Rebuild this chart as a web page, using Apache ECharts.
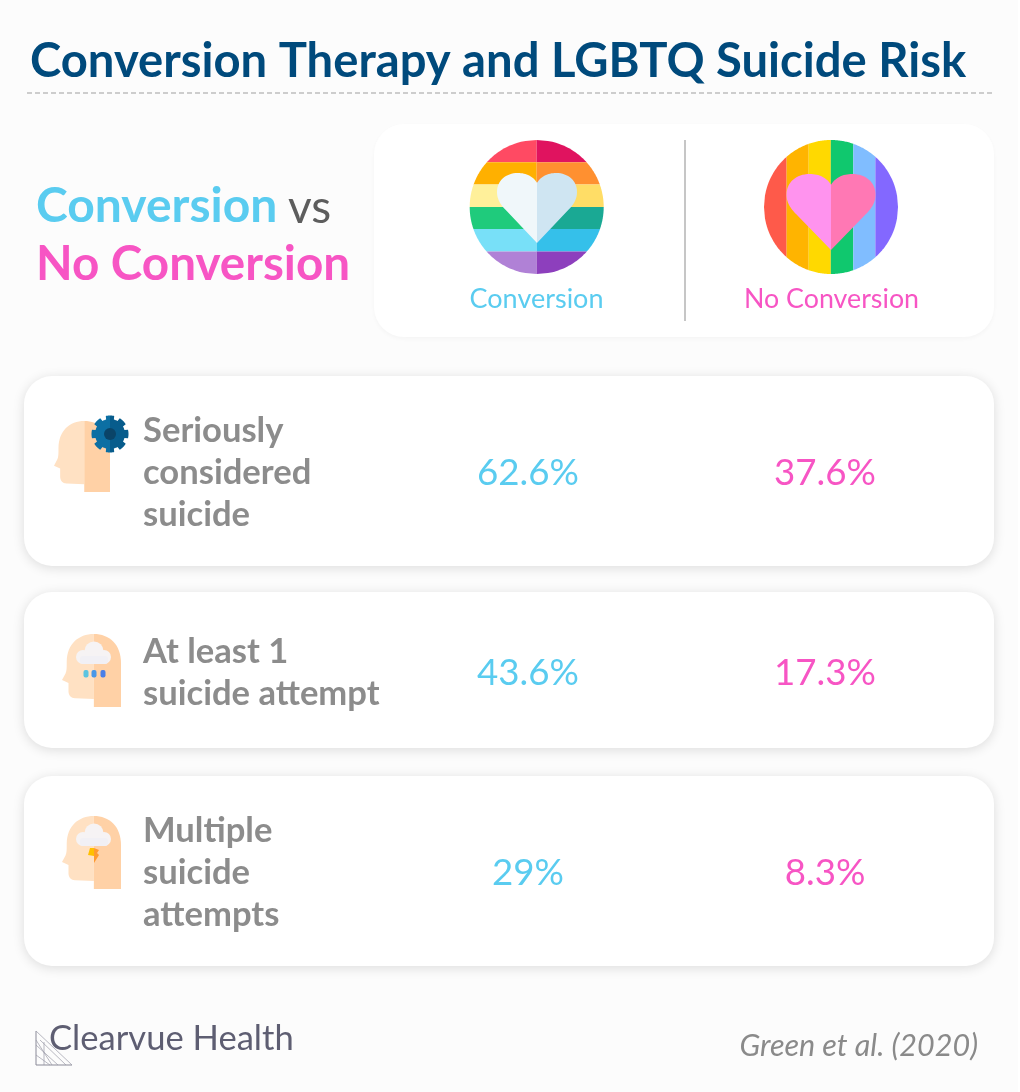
<!DOCTYPE html>
<html>

<head>
    <meta charset="utf-8">
    <title>index</title>
    <script src="https://cdn.jsdelivr.net/npm/echarts@6/dist/echarts.min.js"></script>
    <style>
        html, body { margin: 0; padding: 0; background: #fff; }
    </style>
</head>

<body>
    <div id="main" style="width:1020px;height:1092px;"></div>
</body>
<script>
    var groups = ['Conversion', 'No Conversion'];
    var rows = ['Seriously\nconsidered\nsuicide', 'At least 1\nsuicide attempt', 'Multiple\nsuicide\nattempts'];
    var conversion = [62.6, 43.6, 29];
    var noConversion = [37.6, 17.3, 8.3];

    var BLUE = '#5accf0';
    var PINK = '#f755c4';
    var FONT = 'Lato';

    // half of a disc between two horizontal lines, side -1 = left, 1 = right
    function bandH(cx, cy, r, y0, y1, side, fill) {
        var pts = [], n = 24;
        for (var i = 0; i <= n; i++) {
            var y = y0 + (y1 - y0) * i / n;
            pts.push([cx + side * Math.sqrt(Math.max(0, r * r - (y - cy) * (y - cy))), y]);
        }
        pts.push([cx, y1], [cx, y0]);
        return { type: 'polygon', shape: { points: pts }, style: { fill: fill } };
    }

    // slice of a disc between two vertical lines
    function bandV(cx, cy, r, x0, x1, fill) {
        var top = [], bottom = [], n = 24;
        for (var i = 0; i <= n; i++) {
            var x = x0 + (x1 - x0) * i / n;
            var h = Math.sqrt(Math.max(0, r * r - (x - cx) * (x - cx)));
            top.push([x, cy - h]);
            bottom.unshift([x, cy + h]);
        }
        return { type: 'polygon', shape: { points: top.concat(bottom) }, style: { fill: fill } };
    }

    // outline from a start point and cubic segments [c1x,c1y,c2x,c2y,x,y] or line segments [x,y]
    function outline(start, segs, ox, oy, sx, sy) {
        var pts = [[ox + start[0] * sx, oy + start[1] * sy]];
        var cur = start;
        segs.forEach(function (s) {
            if (s.length === 2) {
                pts.push([ox + s[0] * sx, oy + s[1] * sy]);
                cur = s;
                return;
            }
            for (var k = 1; k <= 16; k++) {
                var t = k / 16, u = 1 - t;
                var px = u * u * u * cur[0] + 3 * u * u * t * s[0] + 3 * u * t * t * s[2] + t * t * t * s[4];
                var py = u * u * u * cur[1] + 3 * u * u * t * s[1] + 3 * u * t * t * s[3] + t * t * t * s[5];
                pts.push([ox + px * sx, oy + py * sy]);
            }
            cur = [s[4], s[5]];
        });
        return pts;
    }

    function shape(points, fill) {
        return { type: 'polygon', shape: { points: points }, style: { fill: fill } };
    }

    function heart(x, y, w, h, left, right) {
        var sx = w / 100, sy = h / 100;
        return [
            shape(outline([50, 14], [[45, 5, 37, 0, 26, 0], [11, 0, 0, 11, 0, 27], [0, 37, 4, 45, 11, 53], [50, 100]], x, y, sx, sy), left),
            shape(outline([50, 14], [[55, 5, 63, 0, 74, 0], [89, 0, 100, 11, 100, 27], [100, 37, 96, 45, 89, 53], [50, 100]], x, y, sx, sy), right)
        ];
    }

    // head drawn in a 100x100 box, split at x=54
    function head(x, y, w, h) {
        var sx = w / 100, sy = h / 100;
        return [
            shape(outline([54, 0], [[28, 0, 8, 14, 8, 38], [8, 46, 8, 50, 6, 54], [0, 63], [11, 67], [11, 78], [11, 84, 15, 88, 23, 88], [54, 89], [54, 100]], x, y, sx, sy), '#ffe1c3'),
            shape(outline([54, 0], [[80, 0, 100, 14, 100, 40], [100, 100], [54, 100]], x, y, sx, sy), '#ffd1a6')
        ];
    }

    function cloud(x, y) {
        var parts = [[-11, 3, 7], [0, -3, 9.5], [10, 3, 7]];
        var items = parts.map(function (p) {
            return { type: 'circle', shape: { cx: x + p[0], cy: y + p[1], r: p[2] }, style: { fill: '#f6f3f4' } };
        });
        items.push({ type: 'rect', shape: { x: x - 14, y: y + 2, width: 28, height: 8, r: 3 }, style: { fill: '#f1f0f5' } });
        return items;
    }

    function gear(cx, cy, r0, r1, from, to, fill) {
        var pts = [[cx, cy]], teeth = 8, n = 96;
        for (var i = 0; i <= n; i++) {
            var a = from + (to - from) * i / n;
            var t = ((a + Math.PI / 2) / (2 * Math.PI) * teeth % 1 + 1) % 1;
            var r = (t < 0.3 || t > 0.7) ? r0 : r1;
            pts.push([cx + r * Math.cos(a), cy + r * Math.sin(a)]);
        }
        return shape(pts, fill);
    }

    function text(x, y, str, size, color, weight, align, style) {
        return {
            type: 'text', x: x, y: y,
            style: {
                text: str, fill: color, align: align || 'left', verticalAlign: 'middle',
                font: (style || 'normal') + ' ' + (weight || 400) + ' ' + size + 'px ' + FONT
            }
        };
    }

    function card(x, y, w, h, r, blur, alpha) {
        return {
            type: 'rect', shape: { x: x, y: y, width: w, height: h, r: r },
            style: { fill: '#fff', shadowColor: 'rgba(0,0,0,' + alpha + ')', shadowBlur: blur, shadowOffsetY: 2 }
        };
    }

    var g = [];

    // page background, header
    g.push({ type: 'rect', shape: { x: 0, y: 0, width: 1018, height: 1092 }, style: { fill: '#fcfcfc' } });
    g.push(text(30, 62, 'Conversion Therapy and LGBTQ Suicide Risk', 47.2, '#004a7c', 700));
    g.push({ type: 'line', shape: { x1: 27, y1: 93, x2: 994, y2: 93 }, style: { stroke: '#bdbdbd', lineWidth: 1.5, lineDash: [5, 3] } });

    g.push(text(36, 207, 'Conversion', 48, BLUE, 700));
    g.push(text(288, 208, 'vs', 46, '#5d5d5d', 400));
    g.push(text(36, 265, 'No Conversion', 47.6, PINK, 700));

    // legend panel
    g.push(card(374, 124, 620, 213, 30, 4, 0.03));
    g.push({ type: 'line', shape: { x1: 685, y1: 140, x2: 685, y2: 321 }, style: { stroke: '#c6c6c6', lineWidth: 2 } });

    var hY = [140, 162.3, 184.5, 207, 229, 251.5, 274];
    var hL = ['#ff4a63', '#ffb000', '#fff09a', '#1fcb7c', '#78e0f8', '#b081d6'];
    var hR = ['#e0135f', '#ff9030', '#ffdd66', '#1aa994', '#35c0ea', '#8d3fbd'];
    for (var i = 0; i < 6; i++) {
        g.push(bandH(536.7, 207, 67, hY[i], hY[i + 1], -1, hL[i]));
        g.push(bandH(536.7, 207, 67, hY[i], hY[i + 1], 1, hR[i]));
    }
    g = g.concat(heart(497, 173, 80, 70, '#f0f7fa', '#cfe5f2'));

    var vX = [764, 786.6, 808.7, 830.8, 853.3, 875.4, 898];
    var vC = ['#fe5a4a', '#ffb400', '#ffd900', '#10c86e', '#80bdff', '#8368ff'];
    for (var j = 0; j < 6; j++) {
        g.push(bandV(831, 207, 67, vX[j], vX[j + 1], vC[j]));
    }
    g = g.concat(heart(786.5, 174, 89, 76, '#ff93ee', '#ff78b4'));

    g.push(text(536.5, 299, groups[0], 27, BLUE, 400, 'center'));
    g.push(text(831.5, 299, groups[1], 26.8, PINK, 400, 'center'));

    // row cards
    g.push(card(24, 376, 970, 190, 28, 12, 0.13));
    g.push(card(24, 592, 970, 156, 28, 12, 0.13));
    g.push(card(24, 776, 970, 190, 28, 12, 0.13));

    // row icons
    g = g.concat(head(54, 421, 56, 71));
    g.push(gear(110, 434, 18.5, 15, -Math.PI * 1.5, -Math.PI / 2, '#0c6fa3'));
    g.push(gear(110, 434, 18.5, 15, -Math.PI / 2, Math.PI / 2, '#075c8c'));
    g.push({ type: 'circle', shape: { cx: 110, cy: 434, r: 6 }, style: { fill: '#0a4468' } });

    g = g.concat(head(62, 634, 59, 73));
    g = g.concat(cloud(94, 654));
    [[86, '#5cc4e0'], [94, '#4a98e8'], [103, '#4a7fe8']].forEach(function (d) {
        g.push({ type: 'rect', shape: { x: d[0] - 2.5, y: 670, width: 5, height: 7.5, r: 2 }, style: { fill: d[1] } });
    });

    g = g.concat(head(62, 816, 59, 73));
    g = g.concat(cloud(94, 836));
    g.push(shape([[90, 848], [94, 848], [94, 856], [88, 855]], '#ffc000'));
    g.push(shape([[94, 848], [99, 850], [97, 853], [99, 855], [94, 863], [94, 856]], '#ff9a30'));

    // footer
    g.push(text(49, 1039, 'Clearvue Health', 34.6, '#5e5e72', 400));
    g.push({ type: 'polyline', shape: { points: [[36, 1031], [36, 1065], [72, 1065]] }, style: { stroke: '#8a8a98', lineWidth: 1, fill: 'none' } });
    [[36, 1031, 72, 1065], [40, 1040, 66, 1065], [36, 1045, 58, 1065], [36, 1055, 50, 1065], [44, 1042, 44, 1065], [36, 1040, 52, 1065]].forEach(function (l) {
        g.push({ type: 'line', shape: { x1: l[0], y1: l[1], x2: l[2], y2: l[3] }, style: { stroke: '#9a9aa6', lineWidth: 0.7 } });
    });
    g.push(text(978, 1046, 'Green et al. (2020)', 30.5, '#8a8a8a', 400, 'right', 'italic'));

    function valueSeries(name, col, values, color) {
        return {
            name: name,
            type: 'scatter',
            symbolSize: 1,
            itemStyle: { color: 'transparent', opacity: 1 },
            silent: true,
            data: values.map(function (v, i) { return { value: [col, i], pct: v }; }),
            label: {
                show: true,
                position: 'inside',
                color: color,
                opacity: 1,
                fontFamily: FONT,
                fontSize: 36.7,
                formatter: function (p) { return p.data.pct + '%'; }
            }
        };
    }

    var chart = echarts.init(document.getElementById('main'));
    var option = {
        animation: false,
        backgroundColor: '#fff',
        graphic: { elements: g },
        grid: { left: 379.5, top: 373, width: 594, height: 600 },
        xAxis: {
            type: 'category',
            data: groups,
            axisLine: { show: false },
            axisTick: { show: false },
            axisLabel: { show: false }
        },
        yAxis: {
            type: 'category',
            inverse: true,
            data: rows,
            axisLine: { show: false },
            axisTick: { show: false },
            axisLabel: {
                align: 'left',
                margin: 236.5,
                color: '#8c8c8c',
                fontFamily: FONT,
                fontWeight: 700,
                fontSize: 34.6,
                lineHeight: 42
            }
        },
        series: [
            valueSeries(groups[0], 0, conversion, BLUE),
            valueSeries(groups[1], 1, noConversion, PINK)
        ]
    };
    chart.setOption(option);
</script>

</html>
